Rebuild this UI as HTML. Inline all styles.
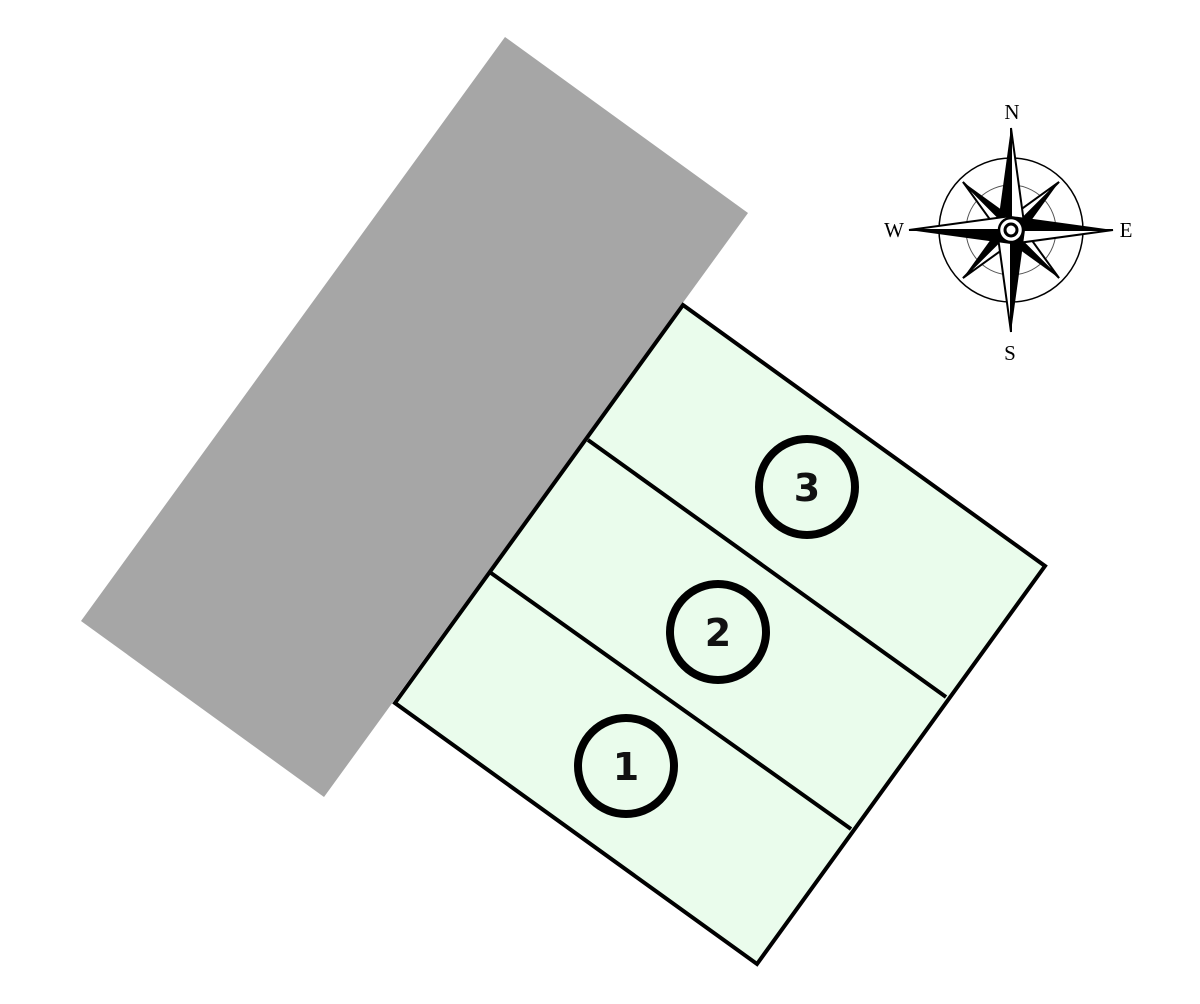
<!DOCTYPE html>
<html><head><meta charset="utf-8"><style>html,body{margin:0;padding:0;background:#fff}svg{display:block}</style></head>
<body>
<svg width="1200" height="1004" viewBox="0 0 1200 1004" xmlns="http://www.w3.org/2000/svg">
<polygon points="505,37 748,213 324,797 81,621" fill="#a6a6a6"/>
<polygon points="683,305 1045,566 757,964 395,703" fill="#eafcec" stroke="#000" stroke-width="4" stroke-linejoin="miter"/>
<line x1="588" y1="440" x2="946" y2="697" stroke="#000" stroke-width="4"/>
<line x1="491" y1="573" x2="851" y2="829" stroke="#000" stroke-width="4"/>
<g fill="none" stroke="#000" stroke-width="8">
<circle cx="807" cy="487" r="48"/>
<circle cx="718" cy="632" r="48"/>
<circle cx="626" cy="766" r="48"/>
</g>
<g font-family="'DejaVu Sans','Liberation Sans',sans-serif" font-weight="bold" font-size="38" text-anchor="middle" fill="#111">
<text x="807" y="501">3</text>
<text x="718" y="646">2</text>
<text x="626" y="780">1</text>
</g>
<g transform="translate(1011,230)">
<circle r="72" fill="none" stroke="#000" stroke-width="1.5"/>
<circle r="45" fill="none" stroke="#555" stroke-width="1"/>
<g id="d">
<g transform="rotate(45)"><polygon points="0,-68 11,0 0,0" fill="#000"/><polygon points="0,-68 -11,0 0,0" fill="#fff" stroke="#000" stroke-width="2"/></g>
</g>
<g transform="rotate(90)"><use href="#d"/></g>
<g transform="rotate(180)"><use href="#d"/></g>
<g transform="rotate(270)"><use href="#d"/></g>
<g id="m">
<polygon points="0,-102 14,0 0,0" fill="#fff" stroke="#000" stroke-width="2"/>
<polygon points="0,-102 -14,0 0,0" fill="#000"/>
</g>
<g transform="rotate(90)"><use href="#m"/></g>
<g transform="rotate(180)"><use href="#m"/></g>
<g transform="rotate(270)"><use href="#m"/></g>
<circle r="12" fill="#fff" stroke="#000" stroke-width="2.5"/>
<circle r="6" fill="#fff" stroke="#000" stroke-width="3"/>
</g>
<g font-family="'Liberation Serif',serif" font-size="21" text-anchor="middle" fill="#000">
<text x="1012" y="119">N</text>
<text x="1010" y="360">S</text>
<text x="894" y="237">W</text>
<text x="1126" y="237">E</text>
</g>
</svg>
</body></html>
